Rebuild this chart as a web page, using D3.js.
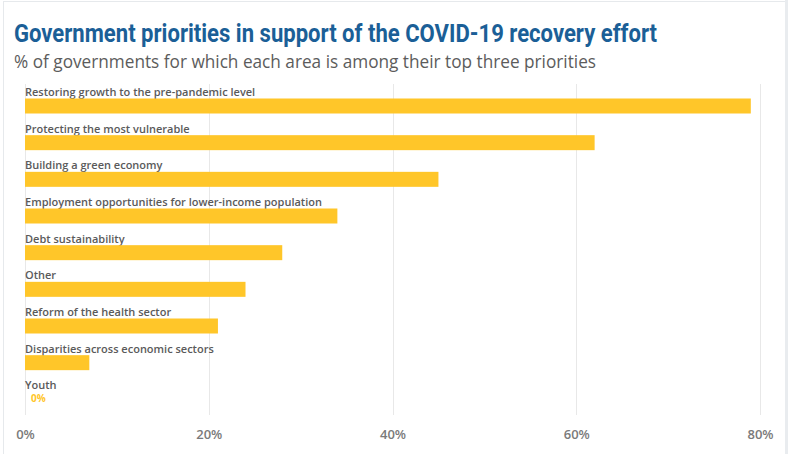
<!DOCTYPE html>
<html><head><meta charset="utf-8">
<script src="https://cdn.jsdelivr.net/npm/d3@7"></script>
<style>
html,body{margin:0;padding:0;background:#fff;}
svg{display:block;}
</style></head>
<body>
<script>
const categories = [
  "Restoring growth to the pre-pandemic level",
  "Protecting the most vulnerable",
  "Building a green economy",
  "Employment opportunities for lower-income population",
  "Debt sustainability",
  "Other",
  "Reform of the health sector",
  "Disparities across economic sectors",
  "Youth"
];
const values = [79, 62, 45, 34, 28, 24, 21, 7, 0];
const tickValues = [0, 20, 40, 60, 80];
const titleText = "Government priorities in support of the COVID-19 recovery effort";
const subtitleText = "% of governments for which each area is among their top three priorities";

const W = 790, H = 454;
const svg = d3.select("body").append("svg").attr("width", W).attr("height", H);

// frame
svg.append("rect").attr("x", 3.5).attr("y", 1.5).attr("width", 782).attr("height", 460)
  .attr("fill", "none").attr("stroke", "#e6e9ec").attr("stroke-width", 1);
svg.append("rect").attr("x", 785).attr("y", 0).attr("width", 3).attr("height", H).attr("fill", "#e9ecef");

svg.append("text").attr("x", 14).attr("y", 42)
  .attr("font-family", "'Liberation Sans Narrow', 'Roboto', sans-serif")
  .attr("font-weight", "bold").attr("font-size", 26.5).attr("fill", "#1b5f97")
  .attr("textLength", 643).attr("lengthAdjust", "spacingAndGlyphs")
  .text(titleText);

svg.append("text").attr("x", 14).attr("y", 68)
  .attr("font-family", "'Open Sans', sans-serif")
  .attr("font-size", 17.5).attr("fill", "#5c5c5c")
  .attr("textLength", 582).attr("lengthAdjust", "spacingAndGlyphs")
  .text(subtitleText);

const x = d3.scaleLinear().domain([0, 80]).range([25, 760]);
const y = d3.scaleBand().domain(categories).range([84.5, 414.5]).paddingInner(0).paddingOuter(0);

// gridlines
svg.append("g").selectAll("line").data(tickValues).join("line")
  .attr("x1", d => Math.round(x(d)) + 0.5).attr("x2", d => Math.round(x(d)) + 0.5)
  .attr("y1", 84).attr("y2", 415)
  .attr("stroke", "#e8e8e8").attr("stroke-width", 1);

// axis
const axis = d3.axisBottom(x).tickValues(tickValues).tickFormat(d => d + "%").tickSize(0).tickPadding(0);
const ag = svg.append("g").attr("transform", "translate(0,439)").call(axis);
ag.select(".domain").remove();
ag.selectAll("text").attr("font-family", "'Open Sans', sans-serif").attr("font-weight", 600)
  .attr("font-size", 13).attr("fill", "#7a7a7a").attr("dy", 0);

const rows = svg.append("g").selectAll("g").data(categories).join("g")
  .attr("transform", d => `translate(0,${y(d)})`);

rows.append("text").attr("x", 25).attr("y", 11.5)
  .attr("font-family", "'Open Sans', sans-serif").attr("font-weight", 600)
  .attr("font-size", 11).attr("fill", "#5a5a5a")
  .text(d => d);

rows.append("rect").attr("x", x(0)).attr("y", 14)
  .attr("width", (d, i) => x(values[i]) - x(0)).attr("height", 15)
  .attr("fill", "#ffc629");

rows.filter((d, i) => values[i] === 0).append("text")
  .attr("x", 31).attr("y", 24)
  .attr("font-family", "'Open Sans', sans-serif").attr("font-weight", 700)
  .attr("font-size", 10).attr("fill", "#ffc629")
  .text((d) => values[categories.indexOf(d)] + "%");
</script>
</body></html>
